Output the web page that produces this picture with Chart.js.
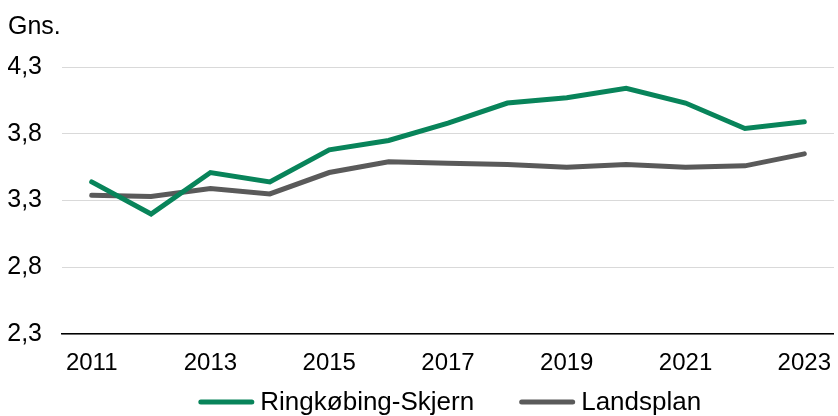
<!DOCTYPE html>
<html>
<head>
<meta charset="utf-8">
<script src="https://cdn.jsdelivr.net/npm/chart.js@4/dist/chart.umd.min.js"></script>
<style>
  html, body { margin: 0; padding: 0; background: #fff; }
  #wrap { width: 838px; height: 416px; }
</style>
</head>
<body>
<div id="wrap"><canvas id="chart"></canvas></div>
<script>
// data
var years = ['2011','2012','2013','2014','2015','2016','2017','2018','2019','2020','2021','2022','2023']
var ringkobing = [3.44, 3.20, 3.51, 3.44, 3.68, 3.75, 3.88, 4.03, 4.07, 4.14, 4.03, 3.84, 3.89]
var landsplan = [3.34, 3.33, 3.39, 3.35, 3.51, 3.59, 3.58, 3.57, 3.55, 3.57, 3.55, 3.56, 3.65]
var yTicks = [2.3, 2.8, 3.3, 3.8, 4.3]

var FONT = '"Liberation Sans", Arial, sans-serif'
Chart.defaults.font.family = FONT
Chart.defaults.font.size = 24
Chart.defaults.color = '#000'

// legend drawn under the plot, centred on the plot area (like the original)
var bottomLegend = {
  id: 'bottomLegend',
  afterDraw: function(chart) {
    var ctx = chart.ctx
    var area = chart.chartArea
    var sets = chart.data.datasets
    var lineLen = 51, gap = 8.5, itemGap = 47.5, y = 402
    ctx.save()
    ctx.font = '26px ' + FONT
    var total = 0
    for (var i = 0; i < sets.length; i++) {
      total += lineLen + gap + ctx.measureText(sets[i].label).width
      if (i > 0) total += itemGap
    }
    var x = (area.left + area.right) / 2 - total / 2 + 3
    ctx.textBaseline = 'middle'
    ctx.textAlign = 'left'
    for (var j = 0; j < sets.length; j++) {
      ctx.strokeStyle = sets[j].borderColor
      ctx.lineWidth = sets[j].borderWidth
      ctx.lineCap = 'round'
      ctx.beginPath()
      ctx.moveTo(x, y)
      ctx.lineTo(x + lineLen, y)
      ctx.stroke()
      x += lineLen + gap
      ctx.fillStyle = '#000'
      ctx.fillText(sets[j].label, x, y + 1)
      x += ctx.measureText(sets[j].label).width + itemGap
    }
    ctx.restore()
  }
}

var myChart = new Chart('chart', {
  type: 'line',
  data: {
    labels: years,
    datasets: [{
      label: 'Ringkøbing-Skjern',
      data: ringkobing,
      borderColor: '#08845a',
      backgroundColor: '#08845a',
      borderWidth: 5,
      borderCapStyle: 'round',
      pointRadius: 0,
      fill: false
    }, {
      label: 'Landsplan',
      data: landsplan,
      borderColor: '#5a5a5a',
      backgroundColor: '#5a5a5a',
      borderWidth: 5,
      borderCapStyle: 'round',
      pointRadius: 0,
      fill: false
    }]
  },
  options: {
    responsive: true,
    maintainAspectRatio: false,
    animation: false,
    layout: { padding: { left: 8, right: 0, top: 0, bottom: 31 } },
    plugins: {
      title: {
        display: true,
        text: 'Gns.',
        align: 'start',
        font: { size: 25, weight: 'normal' },
        padding: { top: 12, bottom: 25 }
      },
      legend: { display: false },
      tooltip: { enabled: false }
    },
    scales: {
      x: {
        offset: true,
        grid: { display: false },
        border: { display: true, color: '#000', width: 1.5 },
        ticks: {
          autoSkip: false,
          maxRotation: 0,
          padding: 7,
          callback: function(v, i) { return i % 2 === 0 ? years[i] : '' }
        }
      },
      y: {
        min: 2.3,
        max: 4.3,
        afterBuildTicks: function(scale) {
          scale.ticks = yTicks.map(function(v) { return { value: v } })
        },
        afterFit: function(scale) { scale.width = 54 },
        grid: { color: '#d9d9d9', lineWidth: 1, drawTicks: false },
        border: { display: false },
        ticks: {
          padding: 20,
          font: { size: 25 },
          callback: function(v) { return v.toFixed(1).replace('.', ',') }
        }
      }
    }
  },
  plugins: [bottomLegend]
})
</script>
</body>
</html>
